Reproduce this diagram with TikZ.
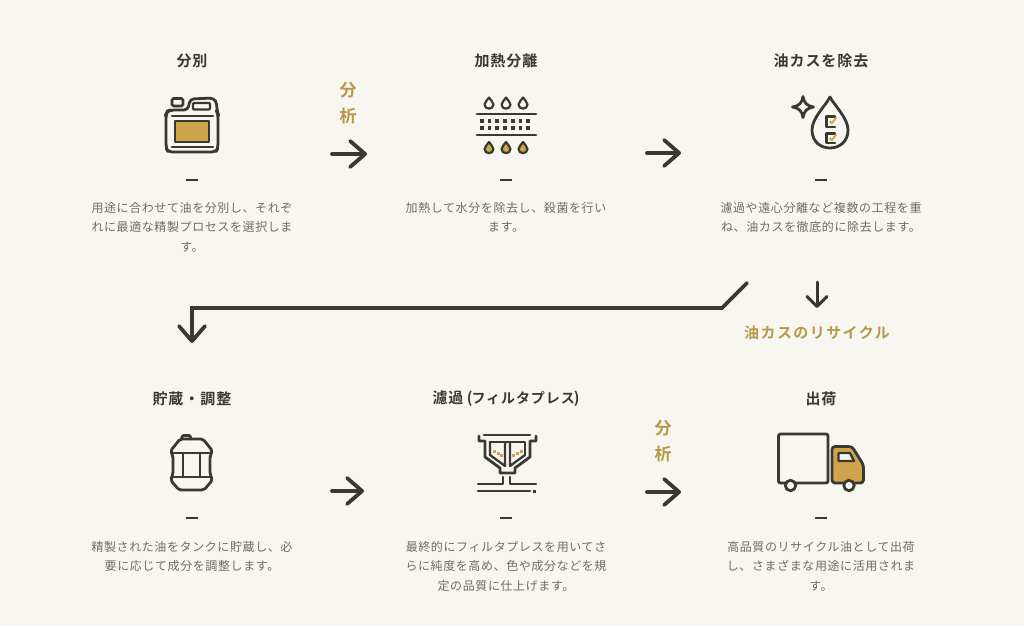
\documentclass[tikz,border=0pt]{standalone}
\usepackage{fontspec}
\usetikzlibrary{arrows.meta}
\setmainfont{Noto Sans CJK JP}
\newfontfamily\descf[LetterSpace=5]{Noto Sans CJK JP}
\newfontfamily\titlef[LetterSpace=6.6,BoldFont={Noto Sans CJK JP Bold}]{Noto Sans CJK JP}
\newfontfamily\goldf[LetterSpace=9.5,BoldFont={Noto Sans CJK JP Bold}]{Noto Sans CJK JP}
\definecolor{bgc}{HTML}{F7F6F0}
\definecolor{ink}{HTML}{3A3833}
\definecolor{goldfill}{HTML}{CFA54C}
\definecolor{goldtext}{HTML}{B8994A}
\definecolor{desc}{HTML}{6E6D67}
\tikzset{
  titlenode/.style={text=ink,inner sep=0pt,font=\titlef\bfseries\fontsize{15}{17}\selectfont},
  descnode/.style={text=desc,inner sep=0pt,anchor=north,align=center,font=\descf\fontsize{12}{19.5}\selectfont},
  goldnode/.style={text=goldtext,inner sep=0pt,font=\goldf\bfseries\fontsize{15}{18}\selectfont},
  bignum/.style={text=goldtext,inner sep=0pt,font=\goldf\bfseries\fontsize{17}{19}\selectfont},
  dashmark/.style={draw=ink,line width=2.2pt},
  bigarrow/.style={draw=ink,line width=3.8pt,line cap=round,-{Straight Barb[length=15pt,width=26pt,line width=3.8pt,round]}},
  midarrow/.style={draw=ink,line width=3pt,line cap=round,-{Straight Barb[length=10pt,width=20pt,line width=3pt,round]}},
  ic/.style={draw=ink,line width=2.8pt,line join=round,line cap=round},
  icthin/.style={draw=ink,line width=2.3pt,line join=round,line cap=round},
  goldmark/.style={draw=goldfill,line width=2pt,line cap=round},
}
\begin{document}
\begin{tikzpicture}[x=1pt,y=-1pt]
\path[use as bounding box,fill=bgc] (0,0) rectangle (1024,626);

% Titles
\node[titlenode] (t1) at (192,61) {分別};
\node[titlenode] (t2) at (506,61) {加熱分離};
\node[titlenode] (t3) at (821,61) {油カスを除去};
\node[titlenode] (t4) at (192,399) {貯蔵・調整};
\node[titlenode] (t5) at (506,399) {濾過 \kern-1pt(\kern-1pt{\fontsize{14}{17}\selectfont フィルタプレス}\kern-1pt)};
\node[titlenode] (t6) at (821,399) {出荷};

% Short dashes
\draw[dashmark] (186,180) -- (198,180);
\draw[dashmark] (500,180) -- (512,180);
\draw[dashmark] (815,180) -- (827,180);
\draw[dashmark] (186,518) -- (198,518);
\draw[dashmark] (500,518) -- (512,518);
\draw[dashmark] (815,518) -- (827,518);

% Descriptions
\node[descnode] (d1) at (192,202) {用途に合わせて油を分別し、それぞ\\れに最適な精製プロセスを選択しま\\す。};
\node[descnode] (d2) at (506,202) {加熱して水分を除去し、殺菌を行い\\ます。};
\node[descnode] (d3) at (821,202) {濾過や遠心分離など複数の工程を重\\ね、油カスを徹底的に除去します。};
\node[descnode] (d4) at (192,541) {精製された油をタンクに貯蔵し、必\\要に応じて成分を調整します。};
\node[descnode] (d5) at (506,541) {最終的にフィルタプレスを用いてさ\\らに純度を高め、色や成分などを規\\定の品質に仕上げます。};
\node[descnode] (d6) at (821,541) {高品質のリサイクル油として出荷\\し、さまざまな用途に活用されま\\す。};

% Gold labels
\node[bignum] (a1) at (348,90) {分};
\node[bignum] (a2) at (348,116) {析};
\node[bignum] (a3) at (663,428) {分};
\node[bignum] (a4) at (663,454) {析};
\node[goldnode] (rc) at (817,333) {油カスのリサイクル};

% Connector ends
\coordinate (p1a) at (332,154); \coordinate (p1b) at (367,154);
\coordinate (p2a) at (647,153); \coordinate (p2b) at (681,153);
\coordinate (p3a) at (332,491); \coordinate (p3b) at (364,491);
\coordinate (p4a) at (647,492); \coordinate (p4b) at (681,492);
\coordinate (l1) at (747,283); \coordinate (l2) at (722,308);
\coordinate (l3) at (192,308); \coordinate (l4) at (192,343);
\coordinate (r1) at (817,282); \coordinate (r2) at (817,308);

\draw[bigarrow] (p1a) -- (p1b);
\draw[bigarrow] (p2a) -- (p2b);
\draw[bigarrow] (p3a) -- (p3b);
\draw[bigarrow] (p4a) -- (p4b);
\draw[bigarrow,line join=miter] (l1) -- (l2) -- (l3) -- (l4);
\draw[midarrow] (r1) -- (r2);

% Icon 1: can
\draw[ic,rounded corners=1.5pt] (172,98.5) rectangle (183,106);
\draw[ic,rounded corners=4pt] (167,112) -- (170,110) -- (188,110) -- (190,99) -- (214,98) -- (217,104) -- (217,112)
  -- (218,114) -- (218,148) -- (216,152) -- (168,152) -- (166,148) -- (166,114) -- cycle;
\draw[icthin,rounded corners=1pt] (193,103) rectangle (210,109.5);
\draw[icthin] (172,116) -- (213,116);
\draw[icthin] (172,147) -- (213,147);
\draw[icthin,fill=goldfill] (175,121) rectangle (209,142);

% Icon 2: filter
\foreach \x in {489,506,523}{
  \draw[ic,line width=2.2pt] (\x,97.5) .. controls (\x+1.5,100.5) and (\x+4.5,102) .. (\x+4.5,104.5)
     .. controls (\x+4.5,110) and (\x-4.5,110) .. (\x-4.5,104.5) .. controls (\x-4.5,102) and (\x-1.5,100.5) .. (\x,97.5) -- cycle;
  \draw[ic,line width=2.2pt,fill=goldfill] (\x,142) .. controls (\x+1.5,145) and (\x+4.5,146.5) .. (\x+4.5,149)
     .. controls (\x+4.5,154.5) and (\x-4.5,154.5) .. (\x-4.5,149) .. controls (\x-4.5,146.5) and (\x-1.5,145) .. (\x,142) -- cycle;
}
\draw[ic] (477,114) -- (536,114);
\draw[ic] (477,135) -- (536,135);
\foreach \y in {121,128}\foreach \x in {482,489.5,497,505,513,520.5,528}{
  \fill[ink] (\x-1.6,\y-1.6) rectangle (\x+1.6,\y+1.6);
}

% Icon 3: drop and sparkle
\draw[ic] (830,97) .. controls (834,105) and (848,118) .. (848,130)
  .. controls (848,154) and (812,154) .. (812,130) .. controls (812,118) and (826,105) .. (830,97) -- cycle;
\draw[ic] (803,96.5) .. controls (804,103) and (807,106) .. (813.5,107) .. controls (807,108) and (804,111) .. (803,117.5)
  .. controls (802,111) and (799,108) .. (792.5,107) .. controls (799,106) and (802,103) .. (803,96.5) -- cycle;
\draw[icthin] (835,116.5) -- (826.5,116.5) -- (826.5,127) -- (835,127);
\draw[icthin] (835,133.5) -- (826.5,133.5) -- (826.5,143) -- (835,143);
\draw[goldmark] (830,121.5) -- (832,123) -- (836,118);
\draw[goldmark] (830,138.5) -- (832,140) -- (836,135);

% Icon 4: tank
\draw[ic,rounded corners=1pt] (181.5,439) -- (182.5,435.5) -- (190,435.5) -- (191,439);
\draw[ic,rounded corners=2pt] (180,439) -- (203,439) -- (212.5,451) -- (210,456) -- (210,474) -- (212.5,480)
  -- (204,490) -- (179,490) -- (170.5,480) -- (173,474) -- (173,456) -- (170.5,451) -- cycle;
\draw[icthin] (172,453) -- (211,453);
\draw[icthin] (172,477) -- (211,477);
\draw[icthin] (183,453) -- (183,477);
\draw[icthin] (200,453) -- (200,477);

% Icon 5: filter press
\draw[ic] (484,435) -- (530,435);
\draw[ic] (479,436) -- (479,441) -- (485,441) -- (485,457) -- (500,468) -- (500,473) -- (515,473) -- (515,468) -- (530,457) -- (530,441) -- (536,441) -- (536,436);
\draw[icthin] (490,442) -- (525,442) -- (525,455);
\draw[icthin] (490,442) -- (490,455) -- (505,466) -- (505,443);
\draw[icthin] (510,443) -- (510,466) -- (525,455);
\foreach \x/\y in {494/451,498/453.5,501/455,513.5/455,517/453.5,521/451}{
  \fill[goldfill] (\x-1.5,\y-1.5) rectangle (\x+1.5,\y+1.5);
}
\draw[icthin] (478,484) -- (503,484) -- (503,477);
\draw[icthin] (536,484) -- (510,484) -- (510,477);
\draw[icthin] (478,491) -- (530,491);
\fill[ink] (533,490) rectangle (535.5,492.5);

% Icon 6: truck
\draw[ic,rounded corners=2pt,fill=bgc] (778.5,434) rectangle (828,483);
\draw[ic,rounded corners=3pt,fill=goldfill] (832,446.5) -- (852,446.5) -- (863.5,465) -- (863.5,483) -- (832,483) -- cycle;
\draw[icthin,fill=bgc,line join=round] (838.5,453) -- (850,453) -- (854,461) -- (838.5,461) -- cycle;
\draw[ic,fill=bgc] (790.5,485.5) circle (5.2);
\draw[ic,fill=bgc] (849,485.5) circle (5.2);
\end{tikzpicture}
\end{document}
